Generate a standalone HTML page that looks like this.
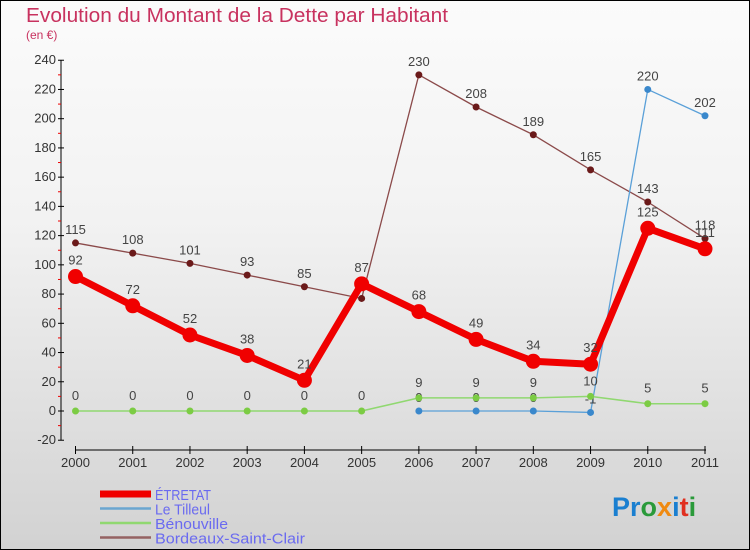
<!DOCTYPE html>
<html><head><meta charset="utf-8"><style>
body{margin:0;width:750px;height:550px;overflow:hidden}
#c{position:absolute;left:0;top:0;width:748px;height:548px;border:1px solid #000;background:linear-gradient(#fbfbfb,#f2f2f2 40%,#d2d2d2)}
svg{position:absolute;left:0;top:0;font-family:"Liberation Sans",sans-serif}
</style></head><body>
<div id="c"></div>
<svg id="s" width="750" height="550">
<text x="26" y="22" font-size="20" fill="#c8325f" textLength="422" lengthAdjust="spacingAndGlyphs">Evolution du Montant de la Dette par Habitant</text>
<text x="26" y="39" font-size="12" fill="#c8325f">(en €)</text>
<g id="g"></g>
<text x="612" y="516" font-size="27" font-weight="bold"><tspan fill="#1a7fd0">Pr</tspan><tspan fill="#2a9a3a">o</tspan><tspan fill="#f08a10">x</tspan><tspan fill="#1a7fd0">i</tspan><tspan fill="#e03020">t</tspan><tspan fill="#2a9a3a">i</tspan></text>
</svg>
<script>
const years=[2000,2001,2002,2003,2004,2005,2006,2007,2008,2009,2010,2011];
const yTicks=[-20,0,20,40,60,80,100,120,140,160,180,200,220,240];
const etretat=[92,72,52,38,21,87,68,49,34,32,125,111];
const tilleul=[null,null,null,null,null,null,0,0,0,-1,220,202];
const benouville=[0,0,0,0,0,0,9,9,9,10,5,5];
const bordeaux=[115,108,101,93,85,77,230,208,189,165,143,118];
const ns="http://www.w3.org/2000/svg",g=document.getElementById('g');
const X=i=>75.5+i*(705-75.5)/11, Y=v=>411-v*380/260;
function el(t,a,p){const e=document.createElementNS(ns,t);for(const k in a)e.setAttribute(k,a[k]);(p||g).appendChild(e);return e;}
let e=el('line',{x1:61,y1:Y(240),x2:61,y2:Y(-20),stroke:'#000'});

e=el('line',{x1:75,y1:450,x2:706,y2:450,stroke:'#000'});

yTicks.forEach((v,i)=>{el('line',{x1:58,x2:64,y1:Y(v),y2:Y(v),stroke:'#000'});
 if(i<yTicks.length-1)el('line',{x1:58,x2:61,y1:Y(v+10),y2:Y(v+10),stroke:'#e00'});
 const t=el('text',{x:56,y:Y(v)+4,'font-size':13,fill:'#333','text-anchor':'end'});t.textContent=v;
 });
years.forEach((yr,i)=>{el('line',{x1:X(i),x2:X(i),y1:446,y2:454,stroke:'#000'});
 const t=el('text',{x:X(i),y:467,'font-size':13,fill:'#333','text-anchor':'middle'});t.textContent=yr;
 });
function series(d,col,dot,w,r,name,lblOff){
 const pts=d.map((v,i)=>v==null?null:[X(i),Y(v)]).filter(p=>p);
 const pl=el('polyline',{points:pts.map(p=>p.join(',')).join(' '),fill:'none',stroke:col,'stroke-width':w,'stroke-linejoin':'round'});
 
 d.forEach((v,i)=>{if(v==null)return;
  const c=el('circle',{cx:X(i),cy:Y(v),r:r,fill:dot});
  
  const t=el('text',{x:X(i),y:Y(v)+lblOff,'font-size':13,fill:'#444','text-anchor':'middle'});t.textContent=v;
  });
}
series(bordeaux,'#8b4a4a','#6b1a1a',1.3,3.5,'bordeaux',-9);
series(tilleul,'#5aa0d8','#3a88cc',1.3,3.5,'le-tilleul',-9);
series(benouville,'#90d870','#7ccc44',1.5,3.5,'benouville',-11);
series(etretat,'#f00000','#f00000',7,7.5,'etretat',-12);
const leg=[['ÉTRETAT','#f00000',7,56],['Le Tilleul','#6aa6d0',2.5,55],['Bénouville','#90d870',2.5,73],['Bordeaux-Saint-Clair','#946262',2.5,150]];
leg.forEach((l,i)=>{const y=494+i*14.5;
 el('line',{x1:100,x2:151,y1:y,y2:y,stroke:l[1],'stroke-width':l[2]});
 const t=el('text',{x:155,y:y+6,'font-size':15,fill:'#6a6af0',textLength:l[3],lengthAdjust:'spacingAndGlyphs'});t.textContent=l[0];
 });
</script>
</body></html>
